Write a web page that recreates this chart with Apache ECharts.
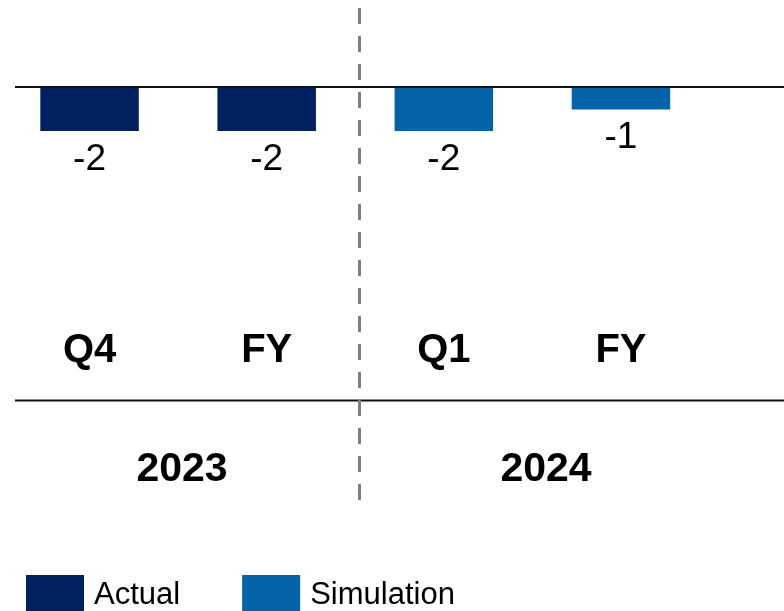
<!DOCTYPE html>
<html>
<head>
<meta charset="utf-8">
<script src="https://cdn.jsdelivr.net/npm/echarts@6/dist/echarts.min.js"></script>
<style>
html,body{margin:0;padding:0;background:#fff;}
#chart{width:784px;height:611px;}
</style>
</head>
<body>
<div id="chart"></div>
<script>
const categories = ['Q4', 'FY', 'Q1', 'FY'];
const years = ['2023', '2024'];
const seriesNames = ['Actual', 'Simulation'];
const actualValues = [-2, -2, null, null];
const simulationValues = [null, null, -2, -1];

const FONT = 'Liberation Sans, Arial, Helvetica, sans-serif';
const NAVY = '#002060';
const BLUE = '#0563AA';

const chart = echarts.init(document.getElementById('chart'));

const option = {
  backgroundColor: '#ffffff',
  animation: false,
  textStyle: { fontFamily: FONT },
  legend: {
    left: 26,
    top: 575,
    padding: 0,
    itemWidth: 58,
    itemHeight: 40,
    itemGap: 62,
    icon: 'rect',
    data: seriesNames,
    textStyle: { fontFamily: FONT, fontSize: 31, color: '#000', padding: [5, 0, 0, 5] }
  },
  grid: [
    { left: 1, width: 708.5, top: 88, bottom: 211 },
    { left: 0, width: 728, top: 400, bottom: 111 }
  ],
  xAxis: [
    {
      type: 'category',
      gridIndex: 0,
      data: categories,
      position: 'bottom',
      axisLine: { show: false },
      axisTick: { show: false },
      splitLine: { show: false },
      axisLabel: {
        inside: true,
        margin: 49,
        verticalAlign: 'middle',
        fontFamily: FONT,
        fontSize: 40,
        fontWeight: 'bold',
        color: '#000'
      }
    },
    {
      type: 'category',
      gridIndex: 1,
      data: years,
      position: 'bottom',
      axisLine: { show: false },
      axisTick: { show: false },
      splitLine: { show: false },
      axisLabel: {
        inside: true,
        margin: 30,
        verticalAlign: 'middle',
        fontFamily: FONT,
        fontSize: 41,
        fontWeight: 'bold',
        color: '#000'
      }
    }
  ],
  yAxis: [
    { type: 'value', gridIndex: 0, min: -14.5, max: 0, show: false, splitLine: { show: false } },
    { type: 'value', gridIndex: 1, min: 0, max: 1, show: false, splitLine: { show: false } }
  ],
  series: [
    {
      name: seriesNames[0],
      type: 'bar',
      xAxisIndex: 0,
      yAxisIndex: 0,
      data: actualValues,
      barWidth: 98.5,
      barGap: '-100%',
      itemStyle: { color: NAVY },
      label: {
        show: true,
        position: 'bottom',
        distance: 10,
        fontFamily: FONT,
        fontSize: 37,
        color: '#000'
      }
    },
    {
      name: seriesNames[1],
      type: 'bar',
      xAxisIndex: 0,
      yAxisIndex: 0,
      data: simulationValues,
      barWidth: 98.5,
      barGap: '-100%',
      itemStyle: { color: BLUE },
      label: {
        show: true,
        position: 'bottom',
        distance: 10,
        fontFamily: FONT,
        fontSize: 37,
        color: '#000'
      }
    }
  ]
};

chart.setOption(option);

const zeroY = chart.convertToPixel({ gridIndex: 0 }, [0, 0])[1];
const baseY = chart.convertToPixel({ gridIndex: 0 }, [0, -14.5])[1];

chart.setOption({
  graphic: [
    {
      type: 'line',
      silent: true,
      z: 10,
      shape: { x1: 15, y1: zeroY - 1, x2: 784, y2: zeroY - 1 },
      style: { stroke: '#111', lineWidth: 2 }
    },
    {
      type: 'line',
      silent: true,
      z: 10,
      shape: { x1: 15, y1: baseY + 0.5, x2: 784, y2: baseY + 0.5 },
      style: { stroke: '#111', lineWidth: 2 }
    },
    {
      type: 'line',
      silent: true,
      z: 11,
      shape: { x1: 359.5, y1: 8, x2: 359.5, y2: 500 },
      style: { stroke: '#7F7F7F', lineWidth: 3, lineDash: [16, 12] }
    }
  ]
});
</script>
</body>
</html>
